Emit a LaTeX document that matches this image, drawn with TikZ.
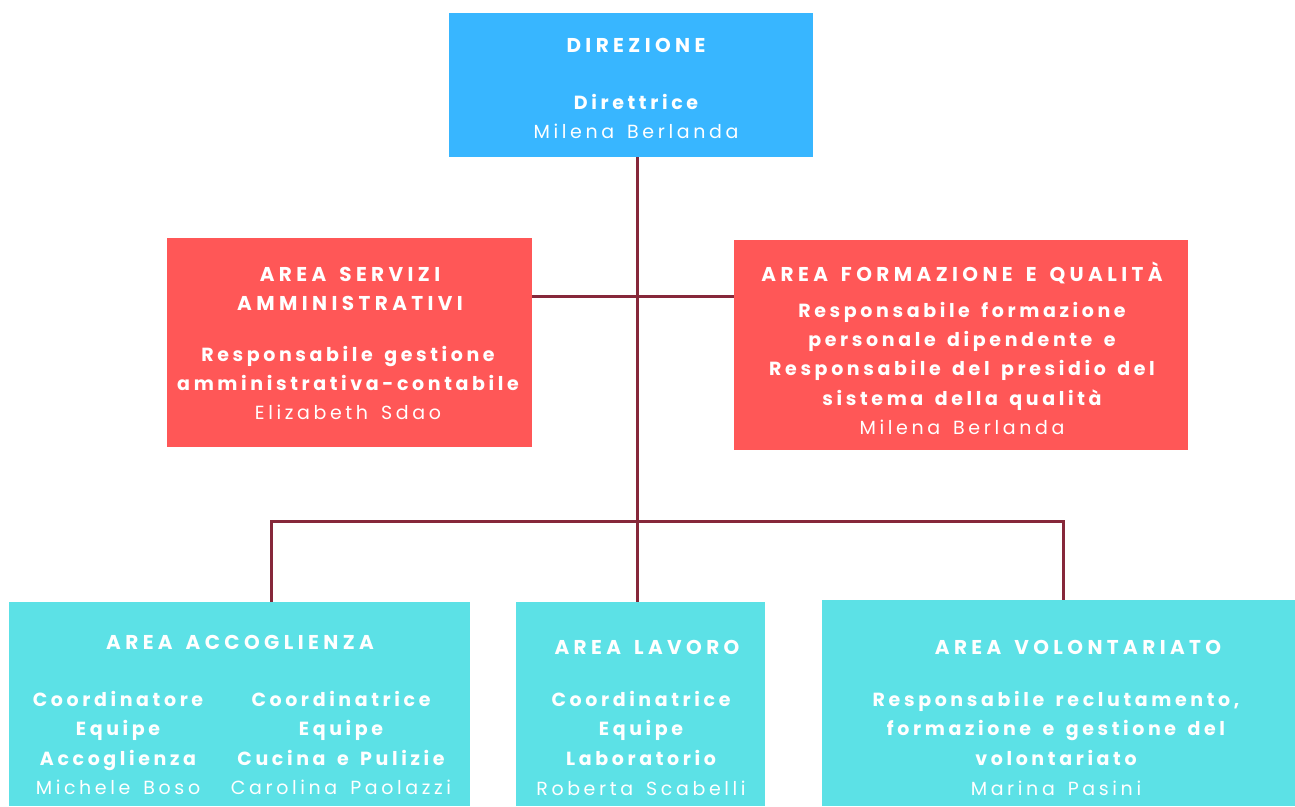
\documentclass[tikz,border=0pt]{standalone}
\usepackage{fontspec}
\usetikzlibrary{backgrounds}
\setmainfont{Poppins}
\newfontfamily\headfont[LetterSpace=22,WordSpace=1.5]{Poppins}
\newfontfamily\rolefont[LetterSpace=19,WordSpace=1.5]{Poppins}
\newfontfamily\namefont[LetterSpace=19,WordSpace=1.5]{Poppins}
\definecolor{dirblue}{HTML}{38B6FF}
\definecolor{areared}{HTML}{FF5757}
\definecolor{areateal}{HTML}{5CE1E6}
\definecolor{linkred}{HTML}{86283A}
\begin{document}
\begin{tikzpicture}[x=1pt,y=-1pt,
  box/.style={draw=none,inner sep=0pt,outer sep=0pt,minimum width=#1},
  head/.style={text=white,inner sep=0pt,anchor=base,font=\headfont\bfseries\fontsize{20}{24}\selectfont},
  role/.style={text=white,inner sep=0pt,anchor=base,font=\rolefont\bfseries\fontsize{19}{23}\selectfont},
  pname/.style={text=white,inner sep=0pt,anchor=base,font=\namefont\fontsize{19}{23}\selectfont},
  link/.style={draw=linkred,line width=3pt}]
\useasboundingbox (0,0) rectangle (1295,806);
% boxes
\node[box=364pt,minimum height=144pt,fill=dirblue] (dir) at (631,85) {};
\node[box=365pt,minimum height=209pt,fill=areared] (ammi) at (349.5,342.5) {};
\node[box=454pt,minimum height=210pt,fill=areared] (form) at (961,345) {};
\node[box=461pt,minimum height=204pt,fill=areateal] (acc) at (239.5,704) {};
\node[box=249pt,minimum height=204pt,fill=areateal] (lav) at (640.5,704) {};
\node[box=473pt,minimum height=206pt,fill=areateal] (vol) at (1058.5,703) {};
% connectors
\begin{scope}[on background layer]
\fill[white] (0,0) rectangle (1295,806);
\coordinate (hub1) at (637,296);
\coordinate (hub2) at (637,521);
\coordinate (accT) at (271,602);
\coordinate (volT) at (1063,600);
\draw[link] (dir.south -| hub1) -- (lav.north -| hub1);
\draw[link] (ammi.east |- hub1) -- (form.west |- hub1);
\draw[link] (acc.north -| accT) -- (accT |- hub2) -- (volT |- hub2) -- (vol.north -| volT);
\end{scope}
% DIREZIONE
\node[head] (t1) at (636,52) {DIREZIONE};
\node[role] (t2) at (636,109) {Direttrice};
\node[pname] (t3) at (636,138) {Milena Berlanda};
% AMMINISTRATIVI
\node[head] (t4) at (350,281) {AREA SERVIZI};
\node[head] (t5) at (350,310) {AMMINISTRATIVI};
\node[role] (t6) at (348,361) {Responsabile gestione};
\node[role] (t7) at (348,390.5) {amministrativa-contabile};
\node[pname] (t8) at (348,419) {Elizabeth Sdao};
% FORMAZIONE
\node[head] (t9) at (962,281.5) {AREA FORMAZIONE E QUALITÀ};
\node[role] (t10) at (962,317.5) {Responsabile formazione};
\node[role] (t11) at (962,346.5) {personale dipendente e};
\node[role] (t12) at (962,375.5) {Responsabile del presidio del};
\node[role] (t13) at (962,405) {sistema della qualità};
\node[pname] (t14) at (962,434) {Milena Berlanda};
% ACCOGLIENZA
\node[head] (t15) at (240,649) {AREA ACCOGLIENZA};
\node[role] (t16) at (118,706.5) {Coordinatore};
\node[role] (t17) at (118,735.5) {Equipe};
\node[role] (t18) at (118,765) {Accoglienza};
\node[pname] (t19) at (118,794) {Michele Boso};
\node[role] (t20) at (341,706.5) {Coordinatrice};
\node[role] (t21) at (341,735.5) {Equipe};
\node[role] (t22) at (341,765) {Cucina e Pulizie};
\node[pname] (t23) at (341,794) {Carolina Paolazzi};
% LAVORO
\node[head] (t24) at (647,654) {AREA LAVORO};
\node[role] (t25) at (641,706.5) {Coordinatrice};
\node[role] (t26) at (641,735.5) {Equipe};
\node[role] (t27) at (641,765) {Laboratorio};
\node[pname] (t28) at (641,795) {Roberta Scabelli};
% VOLONTARIATO
\node[head] (t29) at (1078,654) {AREA VOLONTARIATO};
\node[role] (t30) at (1056,706.5) {Responsabile reclutamento,};
\node[role] (t31) at (1056,735.5) {formazione e gestione del};
\node[role] (t32) at (1056,765) {volontariato};
\node[pname] (t33) at (1056,795) {Marina Pasini};
\end{tikzpicture}
\end{document}
